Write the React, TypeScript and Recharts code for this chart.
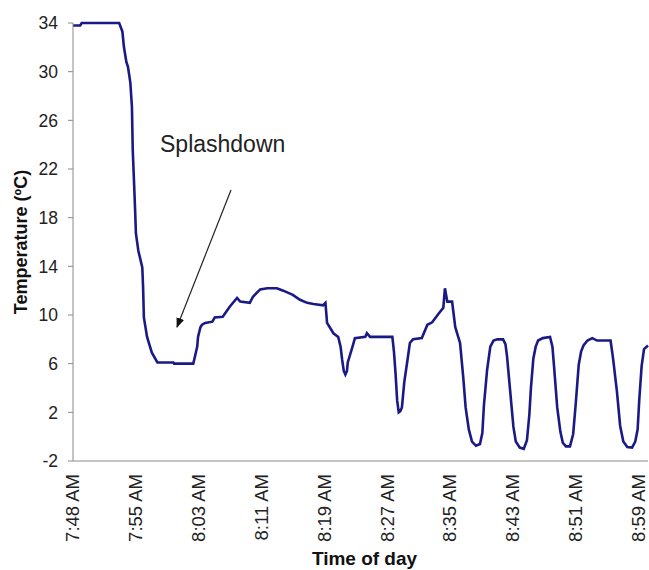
import React from 'react';
import { LineChart, Line, XAxis, YAxis } from 'recharts';

// minutes after 7:48 AM
const TIME_MIN = [
  0, 0.9, 1.1, 5.8, 6.2, 6.4, 6.7, 6.9, 7.2, 7.4, 7.5, 7.7, 7.8, 7.9, 8.2, 8.7, 8.8, 8.9, 9.3, 9.9,
  10.6, 12.6, 12.7, 13.1, 15.1, 15.3, 15.6, 15.7, 16.0, 16.2, 16.6, 17.5, 17.8, 18.8, 19.7, 20.6, 21.0, 22.2, 22.6, 23.5,
  24.4, 25.6, 26.4, 27.6, 28.5, 29.4, 30.2, 31.4, 31.7, 31.9, 32.7, 33.3, 33.6, 33.8, 34.0, 34.2, 34.4, 34.5, 35.1, 35.4,
  36.7, 36.9, 37.3, 40.1, 40.3, 40.5, 40.7, 40.9, 41.1, 41.3, 41.6, 42.0, 42.3, 42.7, 43.8, 44.5, 45.1, 45.9, 46.5, 46.7,
  47.0, 47.6, 48.0, 48.6, 49.0, 49.3, 49.7, 50.1, 50.6, 51.1, 51.4, 51.6, 52.0, 52.4, 52.8, 53.3, 54.0, 54.3, 54.5,
  54.9, 55.3, 55.6, 56.1, 56.6, 57.0, 57.3, 57.5, 57.8, 58.1, 58.4, 59.0, 59.9, 60.2, 60.4,
  60.8, 61.2, 61.5, 61.9, 62.4, 62.8, 63.1, 63.5, 63.8, 64.1, 64.6, 65.2, 65.8, 67.5, 67.8,
  68.3, 68.7, 69.1, 69.6, 70.2, 70.6, 70.9, 71.1, 71.4, 71.7, 72.2,
];

const TEMP_C = [
  33.8, 33.8, 34.0, 34.0, 33.3, 32.0, 30.8, 30.4, 29.1, 27.1, 23.6, 20.3, 18.6, 16.7, 15.3, 13.9, 12.3, 9.8, 8.2, 6.9,
  6.1, 6.1, 6.0, 6.0, 6.0, 6.55, 7.4, 8.2, 9.0, 9.2, 9.35, 9.45, 9.8, 9.85, 10.7, 11.4, 11.1, 11.0, 11.5, 12.1,
  12.2, 12.2, 12.0, 11.65, 11.25, 11.0, 10.9, 10.8, 11.0, 9.35, 8.5, 8.2, 7.4, 6.3, 5.4, 5.1, 5.4, 6.1, 7.4, 8.1,
  8.2, 8.5, 8.2, 8.2, 7.0, 5.2, 3.0, 2.0, 2.1, 2.4, 4.5, 6.3, 7.7, 8.0, 8.1, 9.2, 9.4, 10.1, 10.6, 12.2,
  11.1, 11.1, 9.0, 7.7, 4.9, 2.4, 0.6, -0.4, -0.75, -0.6, 0.3, 2.6, 5.5, 7.4, 7.9, 8.0, 8.0, 7.6, 6.6,
  3.7, 0.8, -0.4, -0.9, -1.0, -0.3, 1.8, 4.0, 6.4, 7.4, 7.9, 8.1, 8.2, 7.4, 5.8,
  2.4, 0.4, -0.5, -0.8, -0.8, 0.2, 2.5, 5.9, 7.0, 7.5, 7.9, 8.1, 7.9, 7.9, 6.5,
  3.7, 0.9, -0.4, -0.85, -0.9, -0.4, 0.6, 3.0, 5.8, 7.2, 7.5,
];

const TIME_LABELS = ['7:48 AM', '7:55 AM', '8:03 AM', '8:11 AM', '8:19 AM', '8:27 AM', '8:35 AM', '8:43 AM', '8:51 AM', '8:59 AM'];
const TIME_TICKS = [0, 7.9, 15.8, 23.7, 31.6, 39.5, 47.4, 55.3, 63.2, 71.1];
const TEMP_TICKS = [-2, 2, 6, 10, 14, 18, 22, 26, 30, 34];

const data = TIME_MIN.map((m, i) => ({ m, temp: TEMP_C[i] }));

const FONT = '"Liberation Sans", Arial, sans-serif';

const TimeTick = (props: any) => {
  const { x, y, payload } = props;
  const idx = TIME_TICKS.indexOf(payload.value);
  return (
    <g transform={`translate(${x},${y})`}>
      <text transform="rotate(-90)" x={-13} y={6} textAnchor="end" fontSize={18.5} fontFamily={FONT} fill="#222">
        {TIME_LABELS[idx]}
      </text>
    </g>
  );
};

export default function App() {
  return (
    <div style={{ position: 'absolute', left: 0, top: 0, width: 649, height: 570, background: '#fff' }}>
      <LineChart width={649} height={570} data={data} margin={{ top: 23, right: 1, left: 0, bottom: 0 }}>
        <XAxis
          dataKey="m"
          type="number"
          domain={[0, 72.2]}
          ticks={TIME_TICKS}
          interval={0}
          height={109}
          tickLine={false}
          tickSize={0}
          tickMargin={0}
          tick={<TimeTick />}
          stroke="#8a8a8a"
          label={{
            content: (p: any) => (
              <text x={p.viewBox.x + p.viewBox.width / 2 + 4} y={565} textAnchor="middle" fontSize={19} fontWeight="bold" fontFamily={FONT} fill="#111">
                Time of day
              </text>
            ),
          }}
        />
        <YAxis
          type="number"
          domain={[-2, 34]}
          ticks={TEMP_TICKS}
          interval={0}
          width={73}
          tickSize={5}
          tickMargin={10}
          stroke="#8a8a8a"
          tick={{ fontSize: 17.5, fontFamily: FONT, fill: '#222' }}
          label={{
            content: (p: any) => {
              const cx = 21;
              const cy = p.viewBox.y + p.viewBox.height / 2;
              return (
                <text x={cx} y={cy} transform={`rotate(-90, ${cx}, ${cy})`} textAnchor="middle" dominantBaseline="central" fontSize={18} fontWeight="bold" fontFamily={FONT} fill="#111">
                  Temperature (ºC)
                </text>
              );
            },
          }}
        />
        <Line type="linear" dataKey="temp" stroke="#1a1a86" strokeWidth={2.6} dot={false} isAnimationActive={false} />
      </LineChart>
      <svg width={649} height={570} style={{ position: 'absolute', left: 0, top: 0, pointerEvents: 'none' }}>
        <defs>
          <marker id="arrowhead" markerWidth="10" markerHeight="8" refX="9" refY="4" orient="auto" markerUnits="userSpaceOnUse">
            <polygon points="0 0, 10 4, 0 8" fill="#111" />
          </marker>
        </defs>
        <text x={160} y={152} fontSize={23} fontFamily={FONT} fill="#222">
          Splashdown
        </text>
        <line x1={231} y1={190} x2={177} y2={327} stroke="#222" strokeWidth={1.2} markerEnd="url(#arrowhead)" />
      </svg>
    </div>
  );
}
